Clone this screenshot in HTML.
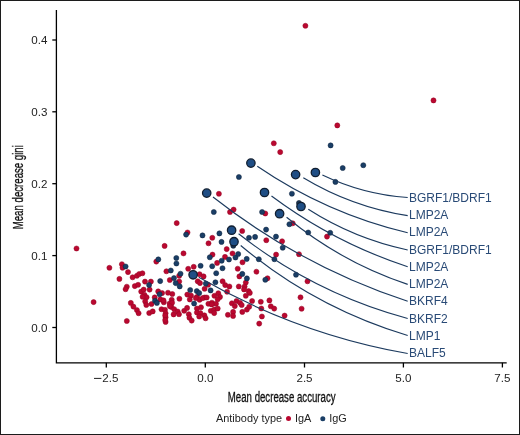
<!DOCTYPE html>
<html><head><meta charset="utf-8"><style>
html,body{margin:0;padding:0;background:#fff;}
body{width:520px;height:435px;overflow:hidden;}
svg{display:block;will-change:transform;}
text{font-family:"Liberation Sans",sans-serif;}
</style></head><body>
<svg width="520" height="435" viewBox="0 0 520 435">
<rect x="0.5" y="0.5" width="519" height="434" fill="#fff" stroke="#1c1c1c" stroke-width="1"/>

<g stroke="#000" stroke-width="1.3" fill="none">
<path d="M56.4 10 V362.8 H506.7"/>
<path d="M52.3 327.5 H56.4"/>
<path d="M52.3 255.6 H56.4"/>
<path d="M52.3 183.7 H56.4"/>
<path d="M52.3 111.8 H56.4"/>
<path d="M52.3 40.0 H56.4"/>
<path d="M106.3 362.8 V367.5"/>
<path d="M205.3 362.8 V367.5"/>
<path d="M304.5 362.8 V367.5"/>
<path d="M403.4 362.8 V367.5"/>
<path d="M502.4 362.8 V367.5"/>
</g>
<g font-size="11.6" fill="#222" text-anchor="end">
<text x="47.4" y="331.6">0.0</text>
<text x="47.4" y="259.7">0.1</text>
<text x="47.4" y="187.8">0.2</text>
<text x="47.4" y="115.9">0.3</text>
<text x="47.4" y="44.1">0.4</text>
</g>
<g font-size="11.6" fill="#222" text-anchor="middle">
<text x="110.4" y="382.4">2.5</text>
<text x="205.3" y="382.4">0.0</text>
<text x="304.5" y="382.4">2.5</text>
<text x="403.4" y="382.4">5.0</text>
<text x="502.4" y="382.4">7.5</text>
<rect x="94" y="377.9" width="7.4" height="1" fill="#222"/>
</g>
<text font-size="14" fill="#111" stroke="#111" stroke-width="0.3" text-anchor="middle" transform="translate(281.7 401.7) scale(0.689 1)">Mean decrease accuracy</text>
<text font-size="14" fill="#111" stroke="#111" stroke-width="0.3" text-anchor="middle" transform="translate(22.8 187.2) rotate(-90) scale(0.689 1)">Mean decrease gini</text>
<text font-size="10.9" fill="#222" x="216.0" y="422.2">Antibody type</text>
<circle cx="288.5" cy="418.5" r="2.5" fill="#ba0830"/>
<text font-size="10.9" fill="#222" x="295.0" y="422.2">IgA</text>
<circle cx="322.8" cy="418.7" r="2.5" fill="#1a3e66"/>
<text font-size="10.9" fill="#222" x="329.2" y="422.2">IgG</text>
<g fill="#ba0830" stroke="#950724" stroke-width="0.5">
<circle cx="305.4" cy="25.8" r="2.55"/>
<circle cx="433.5" cy="100.4" r="2.55"/>
<circle cx="337.3" cy="125.4" r="2.55"/>
<circle cx="273.8" cy="143.3" r="2.55"/>
<circle cx="280.2" cy="152.1" r="2.55"/>
<circle cx="218.9" cy="193.8" r="2.55"/>
<circle cx="230.0" cy="212.0" r="2.55"/>
<circle cx="233.6" cy="209.6" r="2.55"/>
<circle cx="242.2" cy="231.0" r="2.55"/>
<circle cx="265.3" cy="213.5" r="2.55"/>
<circle cx="292.7" cy="223.3" r="2.55"/>
<circle cx="327.0" cy="236.6" r="2.55"/>
<circle cx="299.0" cy="254.2" r="2.55"/>
<circle cx="307.5" cy="281.3" r="2.55"/>
<circle cx="300.5" cy="297.3" r="2.55"/>
<circle cx="301.6" cy="308.7" r="2.55"/>
<circle cx="266.3" cy="240.2" r="2.55"/>
<circle cx="282.1" cy="241.3" r="2.55"/>
<circle cx="276.1" cy="254.6" r="2.55"/>
<circle cx="242.5" cy="262.3" r="2.55"/>
<circle cx="256.4" cy="271.7" r="2.55"/>
<circle cx="267.5" cy="278.3" r="2.55"/>
<circle cx="212.3" cy="237.8" r="2.55"/>
<circle cx="208.5" cy="243.3" r="2.55"/>
<circle cx="226.7" cy="249.1" r="2.55"/>
<circle cx="183.5" cy="253.4" r="2.55"/>
<circle cx="212.5" cy="254.6" r="2.55"/>
<circle cx="232.5" cy="253.5" r="2.55"/>
<circle cx="225.0" cy="256.9" r="2.55"/>
<circle cx="217.1" cy="262.9" r="2.55"/>
<circle cx="193.7" cy="266.8" r="2.55"/>
<circle cx="188.2" cy="268.8" r="2.55"/>
<circle cx="237.7" cy="268.7" r="2.55"/>
<circle cx="199.6" cy="274.2" r="2.55"/>
<circle cx="203.6" cy="276.4" r="2.55"/>
<circle cx="239.4" cy="276.4" r="2.55"/>
<circle cx="76.5" cy="248.5" r="2.55"/>
<circle cx="109.4" cy="267.8" r="2.55"/>
<circle cx="121.9" cy="264.2" r="2.55"/>
<circle cx="122.5" cy="267.7" r="2.55"/>
<circle cx="128.0" cy="272.1" r="2.55"/>
<circle cx="119.4" cy="278.9" r="2.55"/>
<circle cx="132.6" cy="277.3" r="2.55"/>
<circle cx="136.9" cy="275.8" r="2.55"/>
<circle cx="139.2" cy="274.0" r="2.55"/>
<circle cx="142.4" cy="273.3" r="2.55"/>
<circle cx="126.8" cy="286.7" r="2.55"/>
<circle cx="125.6" cy="289.2" r="2.55"/>
<circle cx="134.8" cy="286.1" r="2.55"/>
<circle cx="138.1" cy="284.8" r="2.55"/>
<circle cx="145.0" cy="281.6" r="2.55"/>
<circle cx="150.9" cy="281.6" r="2.55"/>
<circle cx="149.6" cy="289.6" r="2.55"/>
<circle cx="141.2" cy="291.6" r="2.55"/>
<circle cx="143.7" cy="289.6" r="2.55"/>
<circle cx="144.4" cy="294.8" r="2.55"/>
<circle cx="146.6" cy="297.2" r="2.55"/>
<circle cx="142.6" cy="296.8" r="2.55"/>
<circle cx="156.3" cy="261.6" r="2.55"/>
<circle cx="158.2" cy="291.4" r="2.55"/>
<circle cx="154.7" cy="297.4" r="2.55"/>
<circle cx="176.7" cy="223.1" r="2.55"/>
<circle cx="187.5" cy="232.5" r="2.55"/>
<circle cx="164.6" cy="245.9" r="2.55"/>
<circle cx="166.4" cy="271.3" r="2.55"/>
<circle cx="179.2" cy="275.8" r="2.55"/>
<circle cx="169.8" cy="280.0" r="2.55"/>
<circle cx="179.2" cy="281.5" r="2.55"/>
<circle cx="197.7" cy="281.3" r="2.55"/>
<circle cx="200.0" cy="283.1" r="2.55"/>
<circle cx="208.1" cy="284.8" r="2.55"/>
<circle cx="222.6" cy="281.3" r="2.55"/>
<circle cx="225.2" cy="285.1" r="2.55"/>
<circle cx="204.6" cy="288.8" r="2.55"/>
<circle cx="227.1" cy="291.7" r="2.55"/>
<circle cx="229.4" cy="286.5" r="2.55"/>
<circle cx="172.3" cy="294.0" r="2.55"/>
<circle cx="187.3" cy="294.6" r="2.55"/>
<circle cx="191.0" cy="295.5" r="2.55"/>
<circle cx="197.1" cy="296.9" r="2.55"/>
<circle cx="199.6" cy="299.8" r="2.55"/>
<circle cx="204.6" cy="297.5" r="2.55"/>
<circle cx="214.4" cy="295.8" r="2.55"/>
<circle cx="218.3" cy="293.2" r="2.55"/>
<circle cx="220.0" cy="296.9" r="2.55"/>
<circle cx="179.4" cy="298.7" r="2.55"/>
<circle cx="171.7" cy="299.8" r="2.55"/>
<circle cx="189.8" cy="299.5" r="2.55"/>
<circle cx="93.6" cy="302.1" r="2.55"/>
<circle cx="130.8" cy="302.9" r="2.55"/>
<circle cx="133.4" cy="306.6" r="2.55"/>
<circle cx="136.9" cy="310.1" r="2.55"/>
<circle cx="138.6" cy="313.2" r="2.55"/>
<circle cx="126.8" cy="321.0" r="2.55"/>
<circle cx="149.2" cy="313.0" r="2.55"/>
<circle cx="152.7" cy="311.4" r="2.55"/>
<circle cx="145.2" cy="301.4" r="2.55"/>
<circle cx="146.3" cy="304.9" r="2.55"/>
<circle cx="151.5" cy="304.0" r="2.55"/>
<circle cx="160.4" cy="299.4" r="2.55"/>
<circle cx="163.8" cy="302.3" r="2.55"/>
<circle cx="162.1" cy="293.1" r="2.55"/>
<circle cx="168.0" cy="292.7" r="2.55"/>
<circle cx="169.6" cy="303.5" r="2.55"/>
<circle cx="171.3" cy="306.9" r="2.55"/>
<circle cx="174.2" cy="309.2" r="2.55"/>
<circle cx="177.7" cy="311.5" r="2.55"/>
<circle cx="173.6" cy="314.4" r="2.55"/>
<circle cx="161.5" cy="309.2" r="2.55"/>
<circle cx="165.0" cy="309.8" r="2.55"/>
<circle cx="165.6" cy="313.3" r="2.55"/>
<circle cx="165.6" cy="317.3" r="2.55"/>
<circle cx="165.6" cy="321.9" r="2.55"/>
<circle cx="163.5" cy="300.4" r="2.55"/>
<circle cx="172.1" cy="302.7" r="2.55"/>
<circle cx="169.8" cy="306.1" r="2.55"/>
<circle cx="165.2" cy="315.4" r="2.55"/>
<circle cx="165.2" cy="320.0" r="2.55"/>
<circle cx="179.0" cy="314.2" r="2.55"/>
<circle cx="184.2" cy="310.8" r="2.55"/>
<circle cx="187.1" cy="307.9" r="2.55"/>
<circle cx="188.8" cy="314.2" r="2.55"/>
<circle cx="189.4" cy="317.7" r="2.55"/>
<circle cx="191.7" cy="320.6" r="2.55"/>
<circle cx="195.8" cy="298.1" r="2.55"/>
<circle cx="202.7" cy="298.1" r="2.55"/>
<circle cx="206.7" cy="297.5" r="2.55"/>
<circle cx="201.0" cy="307.3" r="2.55"/>
<circle cx="196.9" cy="308.5" r="2.55"/>
<circle cx="196.9" cy="312.5" r="2.55"/>
<circle cx="200.4" cy="313.1" r="2.55"/>
<circle cx="204.4" cy="315.4" r="2.55"/>
<circle cx="205.6" cy="318.3" r="2.55"/>
<circle cx="199.2" cy="316.5" r="2.55"/>
<circle cx="208.4" cy="303.8" r="2.55"/>
<circle cx="211.9" cy="302.7" r="2.55"/>
<circle cx="216.0" cy="303.8" r="2.55"/>
<circle cx="217.7" cy="299.2" r="2.55"/>
<circle cx="210.8" cy="310.8" r="2.55"/>
<circle cx="214.2" cy="309.6" r="2.55"/>
<circle cx="217.7" cy="308.5" r="2.55"/>
<circle cx="214.2" cy="313.1" r="2.55"/>
<circle cx="238.8" cy="286.5" r="2.55"/>
<circle cx="245.8" cy="282.5" r="2.55"/>
<circle cx="244.6" cy="286.5" r="2.55"/>
<circle cx="244.0" cy="289.4" r="2.55"/>
<circle cx="248.6" cy="291.1" r="2.55"/>
<circle cx="249.8" cy="292.9" r="2.55"/>
<circle cx="245.8" cy="295.8" r="2.55"/>
<circle cx="211.7" cy="304.4" r="2.55"/>
<circle cx="231.9" cy="303.3" r="2.55"/>
<circle cx="236.5" cy="301.0" r="2.55"/>
<circle cx="240.0" cy="302.7" r="2.55"/>
<circle cx="241.7" cy="305.0" r="2.55"/>
<circle cx="234.8" cy="306.1" r="2.55"/>
<circle cx="233.1" cy="311.9" r="2.55"/>
<circle cx="227.9" cy="314.8" r="2.55"/>
<circle cx="233.1" cy="316.0" r="2.55"/>
<circle cx="242.3" cy="311.9" r="2.55"/>
<circle cx="246.9" cy="309.6" r="2.55"/>
<circle cx="249.2" cy="306.7" r="2.55"/>
<circle cx="252.1" cy="301.0" r="2.55"/>
<circle cx="260.8" cy="301.8" r="2.55"/>
<circle cx="261.3" cy="308.5" r="2.55"/>
<circle cx="261.9" cy="316.5" r="2.55"/>
<circle cx="269.4" cy="300.4" r="2.55"/>
<circle cx="259.2" cy="323.6" r="2.55"/>
<circle cx="270.8" cy="306.3" r="2.55"/>
<circle cx="274.2" cy="308.6" r="2.55"/>
<circle cx="284.6" cy="315.6" r="2.55"/>
</g>
<g fill="#1a3e66" stroke="#0d233d" stroke-width="0.5">
<circle cx="330.6" cy="145.4" r="2.55"/>
<circle cx="342.7" cy="168.0" r="2.55"/>
<circle cx="363.3" cy="165.2" r="2.55"/>
<circle cx="335.4" cy="181.9" r="2.55"/>
<circle cx="291.9" cy="193.7" r="2.55"/>
<circle cx="238.9" cy="177.0" r="2.55"/>
<circle cx="213.8" cy="212.0" r="2.55"/>
<circle cx="219.4" cy="233.4" r="2.55"/>
<circle cx="202.5" cy="235.4" r="2.55"/>
<circle cx="249.0" cy="237.8" r="2.55"/>
<circle cx="262.1" cy="212.0" r="2.55"/>
<circle cx="289.4" cy="224.2" r="2.55"/>
<circle cx="266.1" cy="229.6" r="2.55"/>
<circle cx="308.2" cy="232.5" r="2.55"/>
<circle cx="255.1" cy="236.9" r="2.55"/>
<circle cx="276.0" cy="236.6" r="2.55"/>
<circle cx="330.2" cy="232.8" r="2.55"/>
<circle cx="296.0" cy="274.7" r="2.55"/>
<circle cx="282.7" cy="247.7" r="2.55"/>
<circle cx="274.4" cy="259.2" r="2.55"/>
<circle cx="258.8" cy="259.2" r="2.55"/>
<circle cx="246.7" cy="258.9" r="2.55"/>
<circle cx="242.3" cy="273.9" r="2.55"/>
<circle cx="246.9" cy="278.4" r="2.55"/>
<circle cx="265.3" cy="279.8" r="2.55"/>
<circle cx="186.1" cy="234.6" r="2.55"/>
<circle cx="221.5" cy="241.9" r="2.55"/>
<circle cx="209.8" cy="257.3" r="2.55"/>
<circle cx="235.5" cy="257.5" r="2.55"/>
<circle cx="238.2" cy="254.0" r="2.55"/>
<circle cx="221.7" cy="260.7" r="2.55"/>
<circle cx="229.0" cy="259.5" r="2.55"/>
<circle cx="200.6" cy="265.8" r="2.55"/>
<circle cx="212.2" cy="266.2" r="2.55"/>
<circle cx="222.5" cy="268.2" r="2.55"/>
<circle cx="216.2" cy="273.2" r="2.55"/>
<circle cx="180.5" cy="273.7" r="2.55"/>
<circle cx="176.4" cy="263.5" r="2.55"/>
<circle cx="170.8" cy="270.5" r="2.55"/>
<circle cx="174.0" cy="278.1" r="2.55"/>
<circle cx="175.7" cy="283.1" r="2.55"/>
<circle cx="205.8" cy="283.6" r="2.55"/>
<circle cx="215.4" cy="282.3" r="2.55"/>
<circle cx="179.7" cy="286.4" r="2.55"/>
<circle cx="190.2" cy="290.0" r="2.55"/>
<circle cx="196.8" cy="291.1" r="2.55"/>
<circle cx="199.2" cy="293.0" r="2.55"/>
<circle cx="210.6" cy="290.4" r="2.55"/>
<circle cx="194.1" cy="303.5" r="2.55"/>
<circle cx="125.6" cy="266.5" r="2.55"/>
<circle cx="149.1" cy="285.0" r="2.55"/>
<circle cx="158.3" cy="259.4" r="2.55"/>
<circle cx="159.6" cy="294.2" r="2.55"/>
<circle cx="160.2" cy="281.1" r="2.55"/>
<circle cx="176.3" cy="258.0" r="2.55"/>
<circle cx="155.0" cy="300.8" r="2.55"/>
<circle cx="156.9" cy="302.9" r="2.55"/>
</g>
<g stroke="#1c3a5e" stroke-width="1.15" fill="none">
<path d="M322.4 174.9 Q362.9 194.3 407.7 197.5"/>
<path d="M303.3 177.7 Q351.8 206.9 407.7 215.6"/>
<path d="M257.3 166.3 Q326.3 213.5 407.7 232.8"/>
<path d="M308.3 209.3 Q354.3 238.7 407.7 250.0"/>
<path d="M271.5 196.0 Q333.8 242.5 407.7 266.7"/>
<path d="M286.6 217.3 Q340.9 262.1 407.7 284.4"/>
<path d="M213.0 197.0 Q301.2 266.3 407.7 301.3"/>
<path d="M238.6 233.8 Q314.5 293.4 407.7 318.5"/>
<path d="M240.7 245.5 Q314.9 307.7 407.7 335.5"/>
<path d="M198.8 277.3 Q296.5 333.8 407.7 353.5"/>
</g>
<g fill="#1a3556" stroke="#0e1c2e" stroke-width="0.6">
<circle cx="299.0" cy="203.0" r="2.55"/>
<circle cx="233.3" cy="245.7" r="2.55"/>
</g>
<g fill="#1f4e85" stroke="#101e30" stroke-width="1.3">
<circle cx="315.4" cy="172.5" r="4.2"/>
<circle cx="295.6" cy="174.6" r="4.2"/>
<circle cx="250.9" cy="163.1" r="4.2"/>
<circle cx="301.0" cy="206.5" r="4.2"/>
<circle cx="264.5" cy="192.5" r="4.2"/>
<circle cx="279.6" cy="213.7" r="4.2"/>
<circle cx="206.7" cy="193.1" r="4.2"/>
<circle cx="231.6" cy="230.2" r="4.2"/>
<circle cx="234.0" cy="241.7" r="4.2"/>
<circle cx="193.1" cy="274.8" r="4.2"/>
</g>
<g font-size="12" fill="#294a76">
<text x="409.0" y="201.8">BGRF1/BDRF1</text>
<text x="409.0" y="219.1">LMP2A</text>
<text x="409.0" y="236.3">LMP2A</text>
<text x="409.0" y="253.6">BGRF1/BDRF1</text>
<text x="409.0" y="270.9">LMP2A</text>
<text x="409.0" y="288.1">LMP2A</text>
<text x="409.0" y="305.4">BKRF4</text>
<text x="409.0" y="322.7">BKRF2</text>
<text x="409.0" y="340.0">LMP1</text>
<text x="409.0" y="357.2">BALF5</text>
</g>
</svg>
</body></html>
